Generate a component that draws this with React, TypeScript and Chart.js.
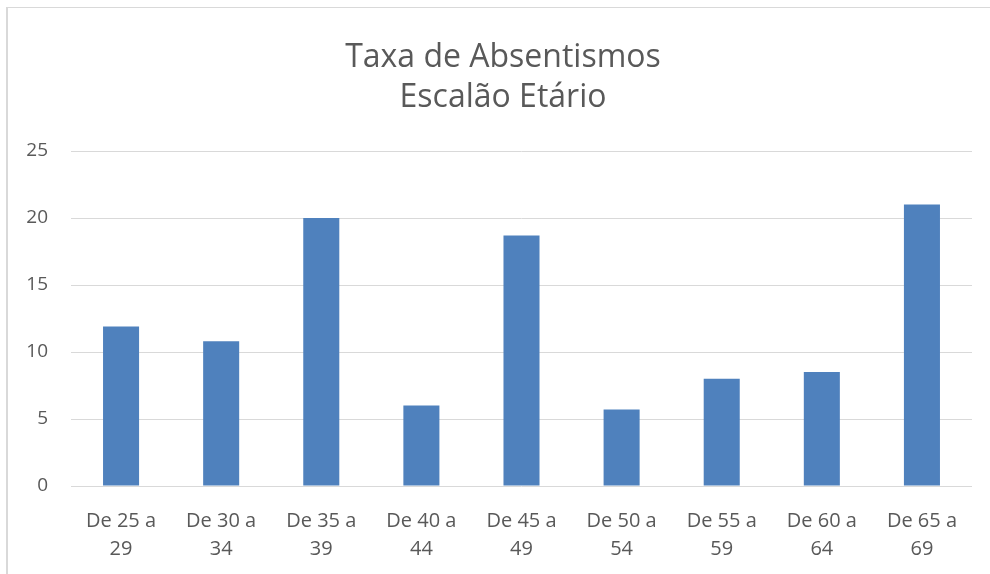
import React, { useEffect, useRef } from "react";
import { Chart, registerables } from "chart.js";

Chart.register(...registerables);

const titleLines = ["Taxa de Absentismos", "Escalão Etário"];
const categories = [
  ["De 25 a", "29"],
  ["De 30 a", "34"],
  ["De 35 a", "39"],
  ["De 40 a", "44"],
  ["De 45 a", "49"],
  ["De 50 a", "54"],
  ["De 55 a", "59"],
  ["De 60 a", "64"],
  ["De 65 a", "69"],
];
const values = [11.9, 10.8, 20.0, 6.0, 18.7, 5.7, 8.0, 8.5, 21.0];
const yMin = 0;
const yMax = 25;
const yStep = 5;

const TEXT = "#595959";
const GRID = "#d9d9d9";
const BAR = "#4f81bd";
const FONT = "'Open Sans', sans-serif";

const titlePlugin = {
  id: "centeredTitle",
  afterDraw(chart: any) {
    const ctx = chart.ctx;
    ctx.save();
    ctx.fillStyle = TEXT;
    ctx.font = "32px " + FONT;
    ctx.textAlign = "center";
    ctx.textBaseline = "middle";
    const cx = 503;
    titleLines.forEach((line, i) => {
      ctx.fillText(line, cx, 58 + i * 40);
    });
    ctx.restore();
  },
};

export default function App() {
  const ref = useRef<HTMLCanvasElement | null>(null);

  useEffect(() => {
    if (!ref.current) return;
    const chart = new Chart(ref.current, {
      type: "bar",
      data: {
        labels: categories,
        datasets: [
          {
            data: values,
            backgroundColor: BAR,
            borderWidth: 0,
            barPercentage: 0.36,
            categoryPercentage: 1.0,
          },
        ],
      },
      plugins: [titlePlugin],
      options: {
        responsive: false,
        animation: false,
        devicePixelRatio: 1,
        layout: { padding: { left: 0, right: 18, top: 151, bottom: 0 } },
        plugins: {
          legend: { display: false },
          tooltip: { enabled: false },
          title: { display: false },
        },
        scales: {
          x: {
            grid: { display: false, drawTicks: false },
            border: { display: false },
            ticks: {
              color: TEXT,
              font: { family: FONT, size: 20, lineHeight: "28px" },
              maxRotation: 0,
              minRotation: 0,
              autoSkip: false,
              padding: 21,
            },
            afterFit: (s: any) => {
              s.height = 88;
            },
          },
          y: {
            min: yMin,
            max: yMax,
            grid: { color: GRID, lineWidth: 1, drawTicks: false },
            border: { display: false },
            ticks: {
              stepSize: yStep,
              color: TEXT,
              font: { family: FONT, size: 19 },
              padding: 23,
            },
            afterFit: (s: any) => {
              s.width = 71;
            },
          },
        },
      },
    });
    return () => chart.destroy();
  }, []);

  return (
    <div
      style={{
        position: "fixed",
        left: 0,
        top: 0,
        width: 990,
        height: 574,
        background: "#ffffff",
        overflow: "hidden",
      }}
    >
      <div
        style={{
          position: "absolute",
          left: 6,
          top: 7,
          width: 1000,
          height: 600,
          borderLeft: "2px solid " + GRID,
          borderTop: "1px solid " + GRID,
        }}
      />
      <canvas
        ref={ref}
        width={990}
        height={574}
        style={{ position: "absolute", left: 0, top: 0, width: 990, height: 574 }}
      />
    </div>
  );
}
